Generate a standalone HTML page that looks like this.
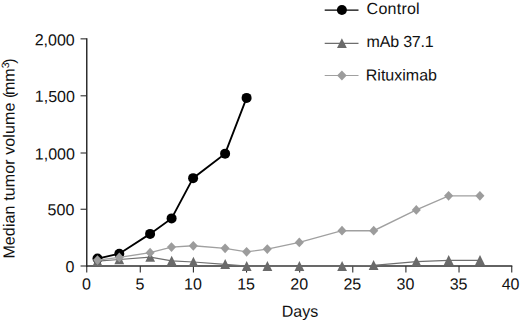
<!DOCTYPE html>
<html lang="en"><head><meta charset="utf-8"><title>Median tumor volume</title>
<style>
html,body{margin:0;padding:0;background:#fff;}
body{width:520px;height:320px;overflow:hidden;}
svg{display:block;}
text{font-family:"Liberation Sans",Arial,Helvetica,sans-serif;font-size:16px;fill:#111;}
</style></head><body>
<svg width="520" height="320" viewBox="0 0 520 320">
<rect width="520" height="320" fill="#fff"/>

<g stroke="#2e2e2e" stroke-width="1.5" fill="none">
<path d="M86.75,38.2 V266.7"/>
<path d="M86.0,266.0 H512.3" stroke-width="1.3"/>
</g>
<g stroke="#2e2e2e" stroke-width="1.1" fill="none">
<path d="M80.55,266 H86.75"/>
<path d="M80.55,209.25 H86.75"/>
<path d="M80.55,153 H86.75"/>
<path d="M80.55,95.8 H86.75"/>
<path d="M80.55,38.85 H86.75"/>
<path d="M86.75,266.0 V272.6"/>
<path d="M140.275,266.0 V272.6"/>
<path d="M193.4,266.0 V272.6"/>
<path d="M246.525,266.0 V272.6"/>
<path d="M299.65,266.0 V272.6"/>
<path d="M352.775,266.0 V272.6"/>
<path d="M405.9,266.0 V272.6"/>
<path d="M459.025,266.0 V272.6"/>
<path d="M511.75,266.0 V272.6"/>
</g>
<g text-anchor="end">
<text x="74.5" y="272.3" transform="rotate(0.03 74.5 272.3)">0</text>
<text x="74.3" y="215.2" transform="rotate(0.03 74.3 215.2)">500</text>
<text x="74.9" y="159.6" transform="rotate(0.03 74.9 159.6)">1,000</text>
<text x="74.9" y="101.9" transform="rotate(0.03 74.9 101.9)">1,500</text>
<text x="74.7" y="45.4" transform="rotate(0.03 74.7 45.4)">2,000</text>
</g><g text-anchor="middle">
<text x="86.35" y="289.4" transform="rotate(0.03 86.35 289.4)">0</text>
<text x="139.875" y="289.4" transform="rotate(0.03 139.875 289.4)">5</text>
<text x="193" y="289.4" transform="rotate(0.03 193 289.4)">10</text>
<text x="246.125" y="289.4" transform="rotate(0.03 246.125 289.4)">15</text>
<text x="299.25" y="289.4" transform="rotate(0.03 299.25 289.4)">20</text>
<text x="352.375" y="289.4" transform="rotate(0.03 352.375 289.4)">25</text>
<text x="405.5" y="289.4" transform="rotate(0.03 405.5 289.4)">30</text>
<text x="458.625" y="289.4" transform="rotate(0.03 458.625 289.4)">35</text>
<text x="510.55" y="289.4" transform="rotate(0.03 510.55 289.4)">40</text>
<text x="299.9" y="316.7" transform="rotate(0.03 299.9 316.7)" font-size="15.4">Days</text>
</g>
<text transform="translate(14.5,258.6) rotate(-89.97)"><tspan letter-spacing="0.12">Median tumor volume (</tspan><tspan dx="-2.5">mm</tspan><tspan font-size="10.6" dy="-5.5">3</tspan><tspan dy="5.5" dx="-1.4">)</tspan></text>
<polyline points="97.5,258.6 119.3,253.7 150.1,233.9 171.6,218.4 193.1,178.15 225.1,153.65 246.6,97.9" fill="none" stroke="#000" stroke-width="1.85"/>
<g fill="#000"><circle cx="97.5" cy="258.6" r="5"/><circle cx="119.3" cy="253.7" r="5"/><circle cx="150.1" cy="233.9" r="5"/><circle cx="171.6" cy="218.4" r="5"/><circle cx="193.1" cy="178.15" r="5"/><circle cx="225.1" cy="153.65" r="5"/><circle cx="246.6" cy="97.9" r="5"/></g>
<polyline points="97.5,261.2 119.3,259.5 150.2,257.15 171.7,260.9 193.4,262 225.2,264.3 246.7,266.2 267.4,266.2 299.4,266.2 342.1,266.2 373.6,265.3 416.4,261.6 448.7,260.3 480,260.3" fill="none" stroke="#6e6e6e" stroke-width="1.25"/>
<g fill="#6a6a6a"><polygon points="97.5,256 102.4,265.9 92.6,265.9"/><polygon points="119.3,254.3 124.2,264.2 114.4,264.2"/><polygon points="150.2,251.95 155.1,261.85 145.3,261.85"/><polygon points="171.7,255.7 176.6,265.6 166.8,265.6"/><polygon points="193.4,256.8 198.3,266.7 188.5,266.7"/><polygon points="225.2,259.1 230.1,269 220.3,269"/><polygon points="246.7,261 251.6,270.9 241.8,270.9"/><polygon points="267.4,261 272.3,270.9 262.5,270.9"/><polygon points="299.4,261 304.3,270.9 294.5,270.9"/><polygon points="342.1,261 347,270.9 337.2,270.9"/><polygon points="373.6,260.1 378.5,270 368.7,270"/><polygon points="416.4,256.4 421.3,266.3 411.5,266.3"/><polygon points="448.7,255.1 453.6,265 443.8,265"/><polygon points="480,255.1 484.9,265 475.1,265"/></g>
<polyline points="97.5,260.1 119.3,257.4 150.1,252.7 171.5,247.1 193.3,245.8 225.1,248.3 246.6,251.8 267.3,249.1 299.3,242.4 342,230.7 373.7,230.7 416.3,209.9 448.6,195.8 479.9,195.8" fill="none" stroke="#a0a0a0" stroke-width="1.35"/>
<g fill="#9c9c9c"><polygon points="97.5,255.25 102.05,260.1 97.5,264.95 92.95,260.1"/><polygon points="119.3,252.55 123.85,257.4 119.3,262.25 114.75,257.4"/><polygon points="150.1,247.85 154.65,252.7 150.1,257.55 145.55,252.7"/><polygon points="171.5,242.25 176.05,247.1 171.5,251.95 166.95,247.1"/><polygon points="193.3,240.95 197.85,245.8 193.3,250.65 188.75,245.8"/><polygon points="225.1,243.45 229.65,248.3 225.1,253.15 220.55,248.3"/><polygon points="246.6,246.95 251.15,251.8 246.6,256.65 242.05,251.8"/><polygon points="267.3,244.25 271.85,249.1 267.3,253.95 262.75,249.1"/><polygon points="299.3,237.55 303.85,242.4 299.3,247.25 294.75,242.4"/><polygon points="342,225.85 346.55,230.7 342,235.55 337.45,230.7"/><polygon points="373.7,225.85 378.25,230.7 373.7,235.55 369.15,230.7"/><polygon points="416.3,205.05 420.85,209.9 416.3,214.75 411.75,209.9"/><polygon points="448.6,190.95 453.15,195.8 448.6,200.65 444.05,195.8"/><polygon points="479.9,190.95 484.45,195.8 479.9,200.65 475.35,195.8"/></g>
<path d="M324.7,10.1 H358.5" stroke="#000" stroke-width="1.3"/><circle cx="341.9" cy="10" r="5" fill="#000"/>
<path d="M324.7,43.3 H358.5" stroke="#6e6e6e" stroke-width="1.2"/><g fill="#6a6a6a"><polygon points="341.9,38.2 346.8,48.1 337,48.1"/></g>
<path d="M324.7,75.5 H358.5" stroke="#a0a0a0" stroke-width="1.2"/><g fill="#9c9c9c"><polygon points="341.9,70.6 346.7,75.5 341.9,80.4 337.1,75.5"/></g>
<text x="366.6" y="14" transform="rotate(0.03 366.6 14)" letter-spacing="0.25">Control</text>
<text x="366.6" y="47" transform="rotate(0.03 366.6 47)" letter-spacing="-0.2">mAb 37.1</text>
<text x="365.8" y="80.5" transform="rotate(0.03 365.8 80.5)">Rituximab</text>
</svg></body></html>
